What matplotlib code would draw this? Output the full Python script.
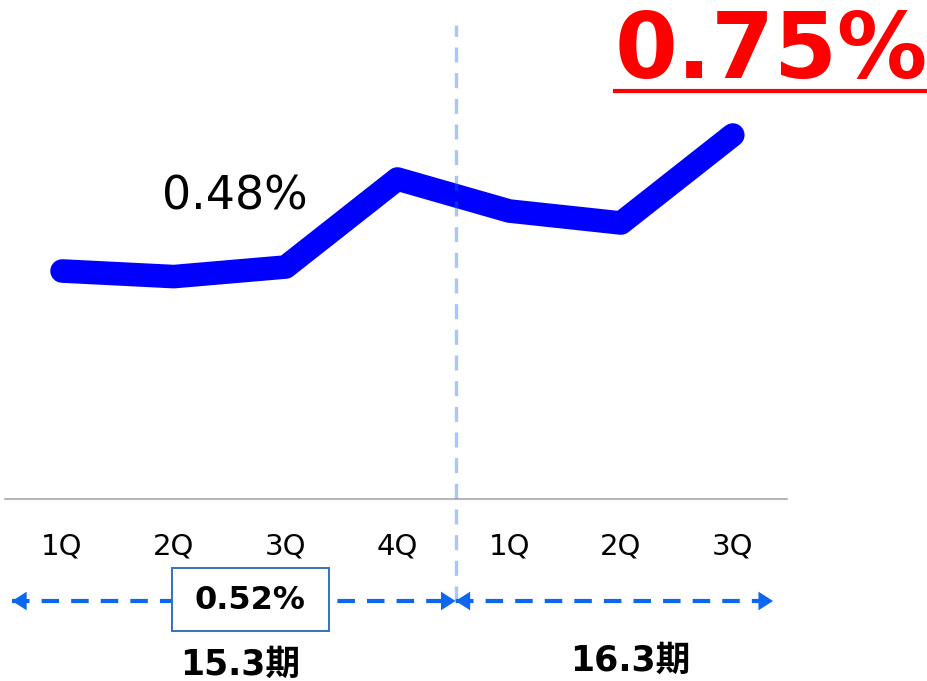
import matplotlib.pyplot as plt
from matplotlib.patches import Rectangle

plt.rcParams['font.family'] = ['DejaVu Sans', 'Noto Sans CJK JP']

# --- datos ---
trimestres = ['1Q', '2Q', '3Q', '4Q', '1Q', '2Q', '3Q']
valores = [0.585, 0.578, 0.59, 0.70, 0.66, 0.645, 0.755]
periodos = ['15.3期', '16.3期']
media_153 = '0.52%'
etiqueta_48 = '0.48%'
etiqueta_ult = '0.75%'

AZUL = '#0000ff'
AZUL_FLECHA = '#0d66f2'

fig = plt.figure(figsize=(9.28, 6.81), dpi=100)
ax = fig.add_axes([0, 0, 1, 1])
ax.axis('off')
ax.set_xlim(-0.555, 7.746)
base = 0.30
ax.set_ylim(base - 182 * 0.00125, base + 499 * 0.00125)

xs = list(range(len(valores)))
ax.plot(xs, valores, color=AZUL, lw=17, solid_capstyle='round',
        solid_joinstyle='round', zorder=3)

# eje horizontal
ax.plot([-0.51, 6.485], [base, base], color='#a0a0a0', lw=1.1, zorder=1)

# divisor entre periodos (semitransparente, por encima de la linea)
div = 3.52
tx = ax.get_xaxis_transform()
ax.plot([div, div], [0.1175, 0.963], transform=tx, color='#1a6ee8', alpha=0.38,
        lw=2.4, ls=(0, (4.5, 3.2)), zorder=4)

# etiquetas de trimestre
for i, t in enumerate(trimestres):
    ax.text(i, 0.197, t, transform=tx, ha='center', va='center', fontsize=21)

# flechas de periodo
y_fl = 0.1175
def flecha(x0, x1):
    ax.plot([x0, x1], [y_fl, y_fl], transform=tx, color=AZUL_FLECHA, lw=3,
            ls=(0, (4.2, 2.9)), zorder=2)
    for a, b in [(x0, x0 + 0.15), (x1, x1 - 0.15)]:
        ax.annotate('', xy=(a, y_fl), xytext=(b, y_fl), xycoords=tx, textcoords=tx,
                    arrowprops=dict(arrowstyle='-|>,head_length=0.5,head_width=0.32',
                                    mutation_scale=21, color=AZUL_FLECHA, lw=0,
                                    shrinkA=0, shrinkB=0), zorder=2)

flecha(-0.447, div)
flecha(div, 6.36)

# caja con la media
ax.add_patch(Rectangle((0.1853, 0.0734), 0.1692, 0.0925, transform=ax.transAxes,
                       fc='white', ec='#2e75b6', lw=1.4, zorder=5))
ax.text(250 / 928, y_fl, media_153, transform=ax.transAxes, ha='center', va='center',
        fontsize=23, fontweight='bold', zorder=6)

ax.text(240 / 928, 0.024, periodos[0], transform=ax.transAxes, ha='center',
        va='center', fontsize=25, fontweight='bold')
ax.text(630 / 928, 0.03, periodos[1], transform=ax.transAxes, ha='center',
        va='center', fontsize=25, fontweight='bold')

# etiquetas de valor
ax.text(235 / 928, 0.711, etiqueta_48, transform=ax.transAxes, ha='center',
        va='center', fontsize=33)
ax.text(771 / 928, 0.922, etiqueta_ult, transform=ax.transAxes, ha='center',
        va='center', fontsize=65, fontweight='bold', color='#ff0000')
ax.plot([615 / 928, 1.0], [0.866, 0.866], transform=ax.transAxes, color='#ff0000',
        lw=3)

fig.savefig('out.png', dpi=100)
